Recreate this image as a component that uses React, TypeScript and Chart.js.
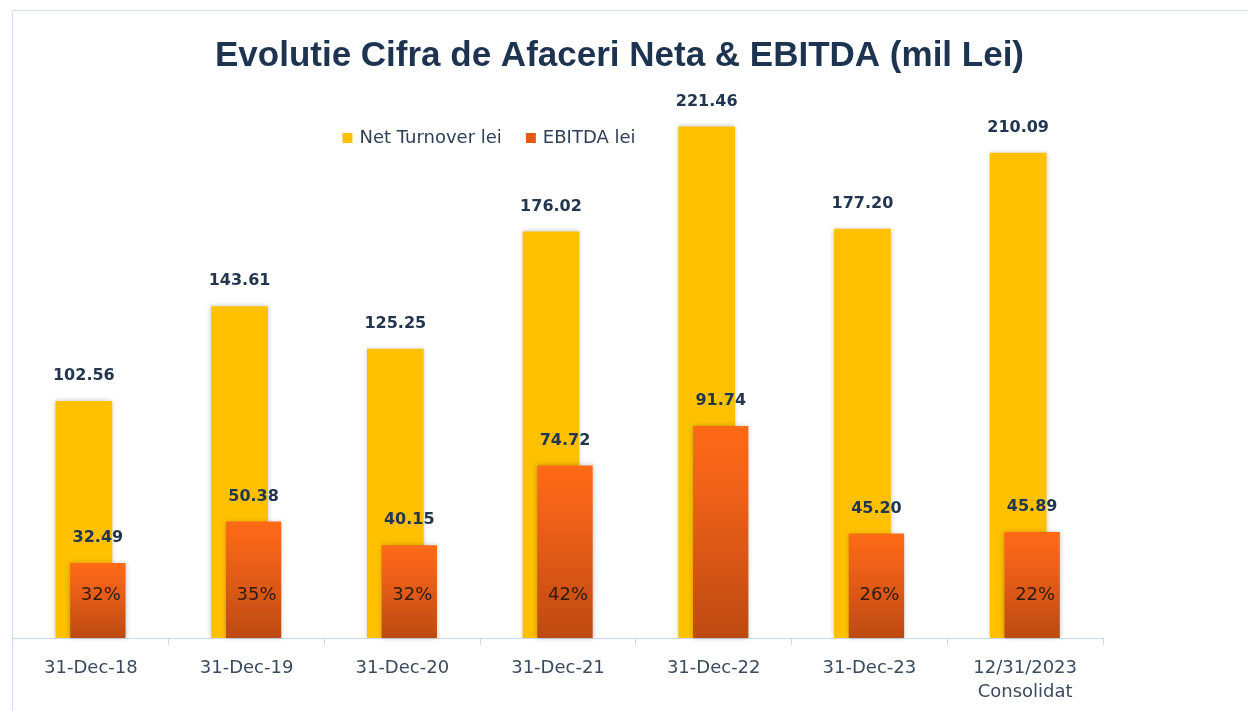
import React, { useEffect, useRef } from "react";
import { Chart, registerables } from "chart.js";

Chart.register(...registerables);

const categories: (string | string[])[] = [
  "31-Dec-18",
  "31-Dec-19",
  "31-Dec-20",
  "31-Dec-21",
  "31-Dec-22",
  "31-Dec-23",
  ["12/31/2023", "Consolidat"],
];
const netTurnover = [102.56, 143.61, 125.25, 176.02, 221.46, 177.2, 210.09];
const ebitda = [32.49, 50.38, 40.15, 74.72, 91.74, 45.2, 45.89];
const ebitdaMargin: (number | null)[] = [32, 35, 32, 42, null, 26, 22];
const seriesLabels = ["Net Turnover lei", "EBITDA lei"];
const titleText = "Evolutie Cifra de Afaceri Neta & EBITDA (mil Lei)";

const YELLOW = "#ffc000";
const ORANGE_LEGEND = "#e35b16";
const LABEL_COLOR = "#22374f";
const AXIS_COLOR = "#c9d9ee";

function setShadow(ctx: CanvasRenderingContext2D) {
  ctx.shadowColor = "rgba(0,0,0,0.25)";
  ctx.shadowBlur = 5;
  ctx.shadowOffsetX = 0;
  ctx.shadowOffsetY = 0;
}

const overlayPlugin = {
  id: "overlay",
  beforeDatasetDraw(chart: any, args: any) {
    if (args.index === 1) return false;
    chart.ctx.save();
    setShadow(chart.ctx);
  },
  afterDatasetDraw(chart: any) {
    chart.ctx.restore();
  },
  afterDatasetsDraw(chart: any) {
    const ctx: CanvasRenderingContext2D = chart.ctx;
    // draw EBITDA bars on top of turnover bars
    ctx.save();
    setShadow(ctx);
    chart.getDatasetMeta(1).controller.draw();
    ctx.restore();

    const base = chart.scales.y.getPixelForValue(0);
    ctx.save();
    ctx.textAlign = "center";
    ctx.textBaseline = "middle";
    ctx.fillStyle = LABEL_COLOR;
    ctx.font = "bold 16px 'DejaVu Sans'";
    [0, 1].forEach((di) => {
      const meta = chart.getDatasetMeta(di);
      const data = chart.data.datasets[di].data as number[];
      meta.data.forEach((el: any, i: number) => {
        ctx.fillText(data[i].toFixed(2), el.x, el.y - 25);
      });
    });
    ctx.font = "18px 'DejaVu Sans'";
    ctx.fillStyle = "#2c1c14";
    const meta1 = chart.getDatasetMeta(1);
    meta1.data.forEach((el: any, i: number) => {
      const p = ebitdaMargin[i];
      if (p == null) return;
      ctx.fillText(p + "%", el.x + 3, base - 43);
    });
    ctx.restore();
  },
  afterDraw(chart: any) {
    const ctx: CanvasRenderingContext2D = chart.ctx;
    ctx.save();
    ctx.font = "18px 'DejaVu Sans'";
    ctx.textBaseline = "middle";
    ctx.textAlign = "left";
    const box = 10;
    const gapText = 7;
    const gapItem = 24;
    const colors = [YELLOW, ORANGE_LEGEND];
    const items = chart.data.datasets.map((d: any, i: number) => ({
      text: d.label as string,
      color: colors[i],
      w: ctx.measureText(d.label).width,
    }));
    let total = 0;
    items.forEach((it: any, i: number) => {
      total += box + gapText + it.w + (i < items.length - 1 ? gapItem : 0);
    });
    const cx = 489;
    const cy = 138;
    let x = cx - total / 2;
    items.forEach((it: any) => {
      ctx.fillStyle = it.color;
      ctx.fillRect(x, cy - box / 2, box, box);
      x += box + gapText;
      ctx.fillStyle = "#2e3f56";
      ctx.fillText(it.text, x, cy);
      x += it.w + gapItem;
    });
    ctx.restore();
  },
};

export default function App() {
  const canvasRef = useRef<HTMLCanvasElement | null>(null);

  useEffect(() => {
    if (!canvasRef.current) return;
    const chart = new Chart(canvasRef.current, {
      type: "bar",
      data: {
        labels: categories,
        datasets: [
          {
            label: seriesLabels[0],
            data: netTurnover,
            backgroundColor: YELLOW,
            borderWidth: 0,
            categoryPercentage: 0.18,
            barPercentage: 4.05,
          },
          {
            label: seriesLabels[1],
            data: ebitda,
            backgroundColor: (c: any) => {
              const ch = c.chart;
              const y = ch.scales && ch.scales.y;
              if (!y || c.type !== "data") return ORANGE_LEGEND;
              const top = y.getPixelForValue(c.raw);
              const bot = y.getPixelForValue(0);
              if (!isFinite(top) || !isFinite(bot) || top === bot) return ORANGE_LEGEND;
              const g = ch.ctx.createLinearGradient(0, top, 0, bot);
              g.addColorStop(0, "#ff6a15");
              g.addColorStop(0.3, "#ef6119");
              g.addColorStop(1, "#bd4a12");
              return g;
            },
            borderWidth: 0,
            categoryPercentage: 0.18,
            barPercentage: 3.95,
          },
        ],
      },
      options: {
        responsive: false,
        animation: false,
        events: [],
        layout: { padding: { left: 13, right: 22, top: 25, bottom: 0 } },
        plugins: {
          legend: { display: false },
          tooltip: { enabled: false },
          title: {
            display: true,
            text: titleText,
            color: "#1d3350",
            font: { family: "'Liberation Sans'", size: 35, weight: "bold", lineHeight: 1.2 },
            padding: { top: 10, bottom: 17 },
          },
        },
        scales: {
          x: {
            offset: true,
            grid: {
              display: true,
              offset: true,
              drawOnChartArea: false,
              drawTicks: true,
              tickLength: 7,
              color: AXIS_COLOR,
            },
            border: { display: true, color: AXIS_COLOR, width: 1 },
            ticks: {
              color: "#3b4a5e",
              padding: 12,
              maxRotation: 0,
              autoSkip: false,
              font: { family: "'DejaVu Sans'", size: 18, lineHeight: 1.3 },
            },
            afterFit: (s: any) => {
              s.height = 73;
            },
          },
          y: {
            position: "right",
            min: 0,
            max: 235.5,
            display: true,
            grid: { display: false },
            border: { display: false },
            ticks: { display: false },
            afterFit: (s: any) => {
              s.width = 123;
            },
          },
        },
      },
      plugins: [overlayPlugin],
    } as any);
    return () => chart.destroy();
  }, []);

  return (
    <div style={{ position: "fixed", left: 0, top: 0, width: 1248, height: 711, background: "#ffffff" }}>
      <div
        style={{
          position: "absolute",
          left: 12,
          top: 10,
          width: 1300,
          height: 800,
          borderTop: "1px solid #cfe0f4",
          borderLeft: "1px solid #cfe0f4",
        }}
      />
      <canvas
        ref={canvasRef}
        width={1248}
        height={711}
        style={{ position: "absolute", left: 0, top: 0, width: 1248, height: 711 }}
      />
    </div>
  );
}
